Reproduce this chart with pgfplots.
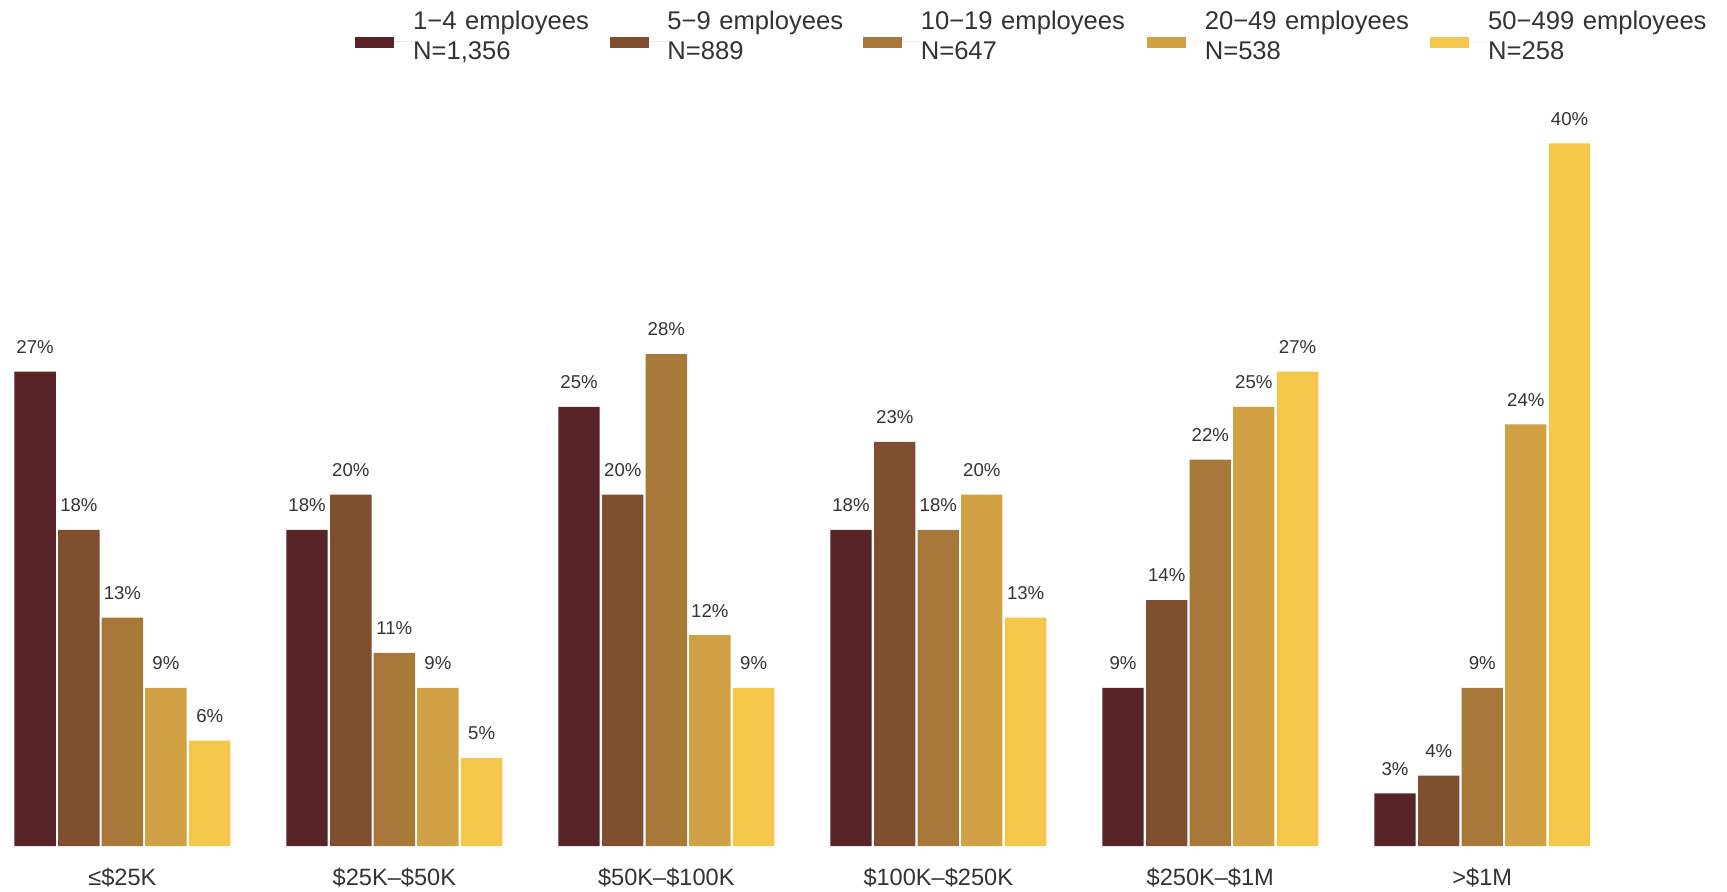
\documentclass[border=0pt]{standalone}
\usepackage{pgfplots}
\pgfplotsset{compat=1.18}
\usepackage{fontspec}
\setmainfont{Liberation Sans}
\setlength{\parindent}{0pt}
\definecolor{c1}{HTML}{582326}
\definecolor{c2}{HTML}{7F4E2F}
\definecolor{c3}{HTML}{A8773A}
\definecolor{c4}{HTML}{D0A043}
\definecolor{c5}{HTML}{F4C74B}
\definecolor{txt}{HTML}{333333}
\begin{document}
\begin{tikzpicture}
\begin{axis}[
 scale only axis, width=863.5pt, height=423pt,
 xmin=-0.45, xmax=5.9, ymin=0, ymax=48.16,
 axis line style={draw=none}, major tick length=0pt,
 ytick=\empty, xtick={0,...,5},
 xticklabels={{≤\$25K},{\$25K–\$50K},{\$50K–\$100K},{\$100K–\$250K},{\$250K–\$1M},{>\$1M}},
 xticklabel style={font=\fontsize{11.8}{13}\selectfont, text=txt, yshift=-7.4pt},
 /pgf/number format/assume math mode=true,
 ybar, bar shift=0pt, bar width=0.152,
 nodes near coords={\pgfmathprintnumber{\pgfplotspointmeta}\%},
 every node near coord/.append style={font=\fontsize{9.3}{11}\selectfont, text=txt, anchor=south, yshift=5.5pt},
 legend columns=5,
 legend style={draw=none, fill=none, at={(rel axis cs:0.20556,1)}, anchor=north west, yshift=-5.3pt, inner sep=0pt,
   font=\fontsize{12.8}{15}\selectfont, text=txt, cells={align=left}, nodes={inner sep=0pt}},
 legend cell align=left,
 legend image code/.code={\fill[#1] (0pt,-12.95pt) rectangle (19.5pt,-7.45pt); \path (0pt,-10pt) -- (28.85pt,-10pt);},
 clip=false,
]
\addplot[fill=c1, draw=none] coordinates {(-0.321,27) (0.679,18) (1.679,25) (2.679,18) (3.679,9) (4.679,3)};
\addlegendentry[text width=98.3pt]{1−4 employees\\N=1,356}
\addplot[fill=c2, draw=none] coordinates {(-0.160,18) (0.840,20) (1.840,20) (2.840,23) (3.840,14) (4.840,4)};
\addlegendentry[text width=97.85pt]{5−9 employees\\N=889}
\addplot[fill=c3, draw=none] coordinates {(0,13) (1,11) (2,28) (3,18) (4,22) (5,9)};
\addlegendentry[text width=113.15pt]{10−19 employees\\N=647}
\addplot[fill=c4, draw=none] coordinates {(0.160,9) (1.160,9) (2.160,12) (3.160,20) (4.160,25) (5.160,24)};
\addlegendentry[text width=112.8pt]{20−49 employees\\N=538}
\addplot[fill=c5, draw=none] coordinates {(0.321,6) (1.321,5) (2.321,9) (3.321,13) (4.321,27) (5.321,40)};
\addlegendentry[text width=115pt]{50−499 employees\\N=258}
\end{axis}
\pgfresetboundingbox
\path[use as bounding box] (0,-22.5pt) rectangle (863.5pt,423pt);
\end{tikzpicture}
\end{document}
